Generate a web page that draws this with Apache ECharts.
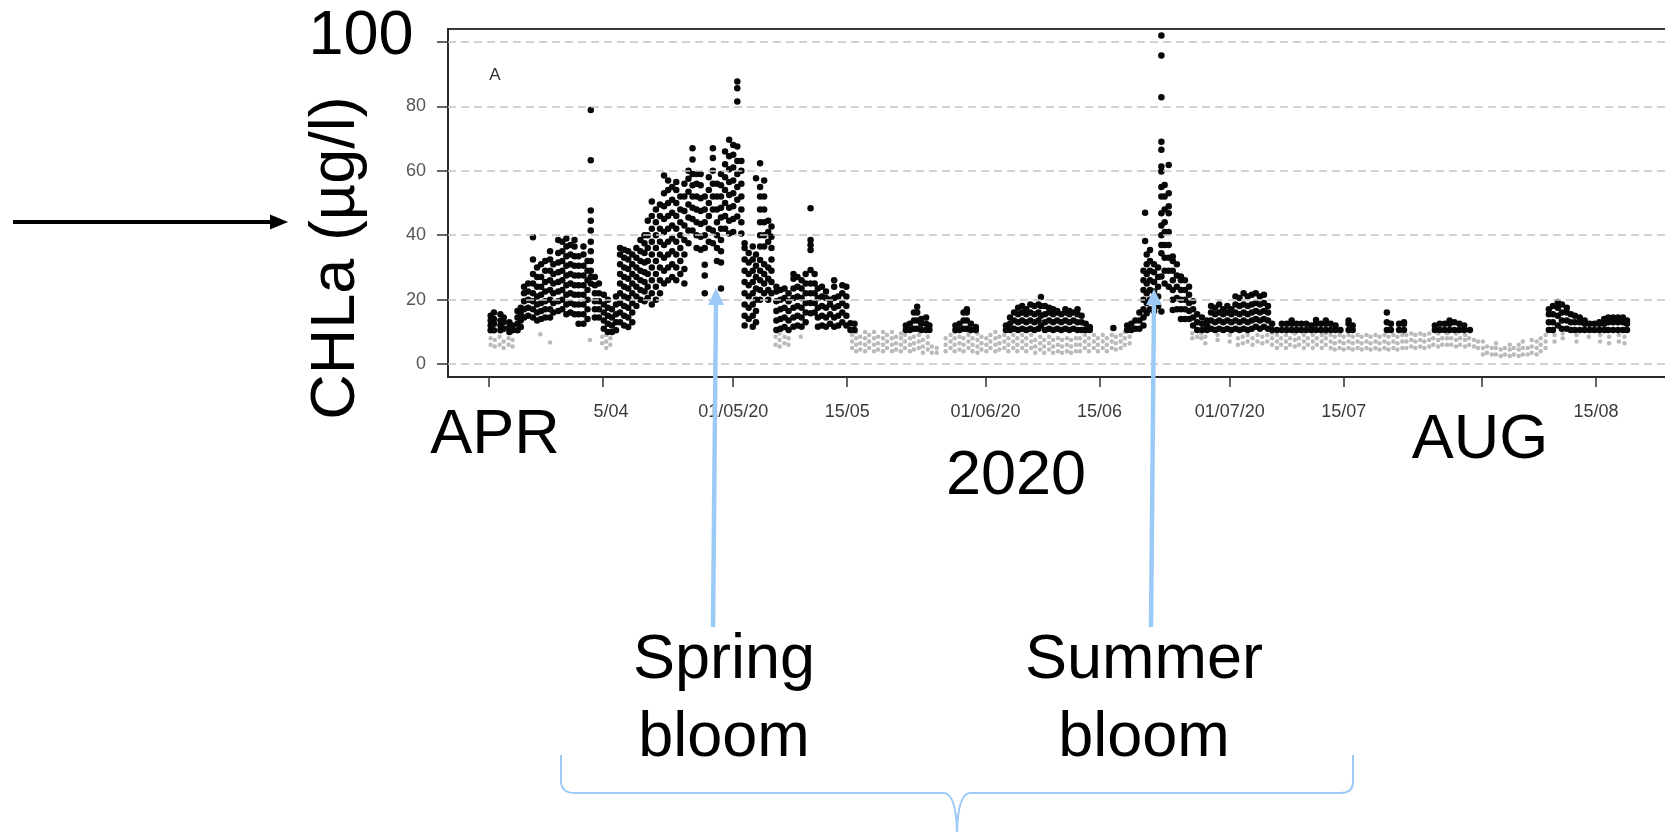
<!DOCTYPE html>
<html><head><meta charset="utf-8">
<script src="https://cdn.jsdelivr.net/npm/echarts@6.0.0/dist/echarts.min.js"></script>
<style>html,body{margin:0;padding:0;background:#fff}#c{width:1665px;height:832px}</style>
</head><body><div id="c"></div><script>
// x axis: days after 1 April 2020
const tickDays   = [0, 14, 30, 44, 61, 75, 91, 105, 122, 136];
const tickLabels = ['', '5/04', '01/05/20', '15/05', '01/06/20', '15/06', '01/07/20', '15/07', '', '15/08'];
const yTicks     = [0, 20, 40, 60, 80, 100];
const yLabels    = [0, 20, 40, 60, 80];

// black points: [day, CHLa values...]
const blackApril = [
 [0.2,10.5,12,13.5,15],[0.6,10.5,12.5,14,16],[1.4,10.5,12,13.5,15.5],[1.8,11,13,14.5],
 [2.5,10,11.5,13],[2.9,10.5,12],[3.5,10.5,12.5,14.5,16.5],[3.9,11.5,13.5,15.5,17.5],
 [4.3,14.5,17,19.5,22,24],[4.8,15,17.5,20,22.5,25],[5.4,14.5,17,19.5,22,25,28,32.5,39.4],
 [5.9,13.5,16,18.5,21,24,27,30],[6.4,14,16.5,19,21.5,24,27,31],[6.9,14.5,17,19.5,22.5,25.5,29,32],
 [7.5,14.5,17,20,23,26,29,32.5,35],[7.9,16,19,22,25,28,31],[8.5,16.5,19.5,22.5,25.5,28.5,31.5,34.5,38.5],
 [9.0,17,20,23,26,29,32,35,38],[9.5,15.5,18.5,21.5,24.5,27.5,30.5,33.5,36.5,39],[10.0,16,19,22,25,28,31,34,37],
 [10.5,15.5,18.5,21.5,24.5,27.5,30.5,33.5,36.5,38.5],[11.0,12.5,15.5,18.5,21.5,24.5,27.5,30.5,33.5],
 [11.6,12.5,15.5,18.5,21.5,24.5,27.5,30.5,34,36.5],[12.1,14,17,20,23,26,29,32],
 [12.5,25,27,29,32,35,38,41.5,44.5,47.7,63.3,78.9],[13.0,14.5,17,19.5,22,24.5,27],[13.5,14.5,17,19.5,22,25],
 [14.1,11,13.5,16,18.5,21.5],[14.6,10,12.5,15,17.5,20],[15.1,10,12,14.5,17],[15.6,10.5,13,15.5,18.5,21],
 [16.1,13,16,19,22,25,28,31,34,36],[16.6,12,15,18,21,24,27,30,33,35.5],[17.1,11.5,14.5,17.5,20.5,23.5,26.5,29.5,32.5,35],
 [17.6,13,16,19,22,25,28,31,34],[18.1,18,21,24,27,30,33,36],[18.6,20,23,26,29,32,35,38.5],
 [19.1,19.5,22.5,25.5,28.5,31.5,34.5,37.5,40],[19.5,20.5,24,28,32,36,40,44.5],[20.0,18.5,22,26,30,34,38,42,46,50.5],
 [20.5,20,24,28,32,36,40,44,48],[21.0,22,26,30,34,38,42,46,49.5],[21.5,25,29,33,37,41,45,49,53,58.5],
 [22.0,26,30,34,38,42,46,50,54,57],[22.5,27,31,35,39,43,47,51,55],[23.0,26,30,34,38,42,46,50,54,56.5],
 [23.5,28,32,36,40,44,48,52],[24.0,25,29.5,34,38.5,43,47.5,52,56],[24.5,37.5,41.5,45.5,49.5,53.5,57.5,60],
 [25.0,41.5,45,48.5,52,55.5,59,63.5,67],[25.5,36,40,44,48,52,56,59],[26.0,35.5,39.5,43.5,47.5,51.5,55.5,59],
 [26.5,22,27.5,30.8,36,40,44,48,52],[27.0,38,42,46,50,54,58],[27.5,37.5,41.5,48,52,56,60,64,67],
 [28.0,32,36,40,44,48,52,56],[28.5,23.5,31.5,35,38.5,42,45.5,48.5,52,55.5,59],[29.0,42,46,50,54,58,62,66],
 [29.5,40.5,44.5,48.5,52.5,56.5,60.5,64.5,69.6]
];
const blackMay = [
 [30.0,41,45,49,53,57,61,65,68],[30.5,45.8,51,55,59,63,67.5,81.5,85.6,87.7],[31.0,40.5,44,48,52,56,60,63],
 [31.4,12,15,18.5,22,25.5,29,32.5,36,37.5],[31.9,14,17.5,21,24.5,28,31.5,34.5],[32.4,11.6,15,18.5,22,25.5,29,32.5,36.5],
 [32.8,13,16.5,20,23.5,27,30.5,34,57.7],[33.3,20,23,26,29,32.3,36.5,40,44,48,52,55,62.3],
 [33.8,22,25,28,31,36.5,40,44,48,52,57],[34.3,20,23,26.5,30,38,41,44.5],[34.7,22,25.5,29,32.5,36,39.5,42.7],
 [35.3,10.6,13.5,16.5,19.5,22.5,24],[35.8,11,14,17,20,23],[36.3,11.5,14.5,17.5,20.5,23.5],[36.8,10.6,13.5,16.5,19.5,22],
 [37.4,11.6,14.5,17.5,20.5,23.5,26.5,28],[37.9,12,15,18,21,24,27],[38.4,11.6,14.5,17.5,20.5,23.5,26],
 [38.9,13,16,19,22,25,28],[39.5,15.8,19,22,25,29.2,35.4,37,38.5,48.4],[40.0,16,19,22,25,28],
 [40.4,11.6,14.5,17.5,20.5,23.5],[40.9,12,15,18,21,24],[41.4,11.6,14.5,17.5,20.5,22.5],[41.9,12.5,15.5,18.5,20],
 [42.4,11.6,14.5,17.5,20.5,24,26],[42.9,12,15,18,21],[43.4,13,16,19,22,24.5],[43.9,12,15,18,21,24],
 [44.4,10.6,12.7],[44.9,10.6,12.5]
];
const blackJune = [
 [51.2,10.6,12],[51.7,10.6,12.5],[52.2,11,13.5,16],[52.6,11,13.5,16,17.8],[53.1,10.6,12.5,14],[53.7,10.6,12.5,14.5],[54.1,10.6,12],
 [57.3,10.6,12],[57.8,10.6,12.5],[58.3,11,13.5,16],[58.7,11,13.5,16,17],[59.2,10.6,12.5],[59.8,10.6,11.5],
 [63.5,10.6,12],[64.0,10.6,12.5,14.5],[64.5,11,13.5,16],[65.0,10.6,13,15.5,17.5],[65.5,11,13.5,16,18],
 [66.0,10.6,13,15.5,17],[66.5,11,13.5,16,18.5],[67.0,10.6,13,15.5,18],[67.5,11,13.5,16,18.5],[67.8,12,15,18,20.8],
 [68.3,10.6,13,15.5,18],[68.8,11,13.5,16,17.5],[69.3,10.6,13,15.5,17],[69.8,11,13.5,16,16.5],[70.3,10.6,13,15.5],
 [70.8,11,13.5,16,17],[71.3,10.6,13,15.5,16.5],[71.8,11,13.5,16],[72.3,10.6,13,15.5,17],[72.8,10.6,13,15],
 [73.3,10.6,12.5],[73.8,10.6,11.5],[76.7,11.2],
 [78.4,10.6,12],[78.9,10.6,12.5],[79.4,11,13.5],[79.9,11,13.5,16]
];
const blackSummer = [
 [80.4,12,14.5,17,20,23,26,29],[80.6,38.2,47],[80.8,15.8,19,22,25,28,31,34],[81.2,17,20,23,26,29,32,35.4],
 [81.7,16.5,19.5,22.5,25.5,28.5,31],[82.2,18,21,24,27,30],
 [82.6,16.3,27.2,34.4,37,40,43,46.8,52,55,59.8,61.3,66.5,69,82.8,95.8,102],
 [83.0,25,29,33,37,41,44,48,52,55.6],[83.5,24,29,33,37,41,46.8,49,53,61.8],
 [84.0,16.8,20,23,26,29,32,33.4],[84.5,17,20.5,24,27.5,31],[85.0,14,17,20,23,26,27.2],[85.5,14,17,20,23,26],
 [86.0,14,16.5,19,21.5,24],[86.5,12,14.5,17,19.5],[87.0,10.6,13,15.5],[87.6,10.6,12.5,14.5],[88.2,10.6,12,13.5],
 [88.7,11,13.5,16,18],[89.2,10.6,13,15.5,17.5],[89.7,11,13.5,16,18.5],[90.2,10.6,13,15.5,17],[90.7,11,13.5,16,18],
 [91.2,10.6,13,15.5,17],[91.7,11,13.5,16,18.5,21],[92.2,10.6,13,15.5,18,20.5],[92.7,11,13.5,16,18.5,22],
 [93.2,10.6,13,15.5,18,21],[93.7,11,13.5,16,18.5,21.5],[94.2,11.6,14,16.5,19,22],[94.7,11,13.5,16,18.5,21],
 [95.2,11.6,14,16.5,19,21.5],[95.7,11,13.5,16,18],[96.2,10.6,12.5]
];
const blackLate = [
 [96.8,10.6],[97.4,10.6,12.5],[98.0,10.6,12.5],[98.6,10.6,12.5,13.5],[99.2,10.6,12.5],[99.8,10.6,12.5],
 [100.4,10.6,12.5],[101.0,10.6,12],[101.6,10.6,12.5,13.7],[102.2,10.6,12.5],[102.8,10.6,12.5,13.5],
 [103.4,10.6,12.5],[104.0,10.6,12],[104.6,10.6],[105.6,10.6,12.5,13.5],[106.1,10.6,12],
 [110.3,10.6,13,16],[110.8,10.6,12.5],[111.8,10.6,12.5],[112.4,10.6,12.5,13],
 [116.2,10.6,12],[116.8,10.6,12.5],[117.4,10.6,12.5],[118.0,10.6,12.5,13.5],[118.6,10.6,13],[119.2,10.6,12.5],
 [119.8,10.6,12],[120.5,10.6],
 [130.2,10.6,13,15.5,17],[130.7,10.6,13,15.5,18],[131.3,12,15,17.5,19.3],[131.8,11,13.5,16,18.5],
 [132.4,11,13.5,16,17.5],[132.9,10.6,13,15.5],[133.4,10.6,13,15],[134.0,10.6,13,14.5],[134.6,10.6,12.5,13.5],
 [135.2,10.6,12.5],[135.8,10.6,12.5],[136.4,10.6,12.5,13],[137.0,10.6,12.5,14],[137.5,10.6,13,14.5],
 [138.1,10.6,13,14.5],[138.7,10.6,13,14.5],[139.3,10.6,13,14.5],[139.8,10.6,12.5,13.5]
];
// grey points: [day, values...]
const greySpring = [
 [0.2,6,8],[0.7,5.5,7.5],[1.3,6,8.5],[1.8,5,7],[2.4,6,8],[2.9,5.5,7.5],
 [6.3,9.3],[7.5,6.7],[12.4,7.5],[13.9,6.5,8.5],[14.4,5,7,9],[14.9,6,8],
 [35.2,6,8.5],[35.7,5.5,7.5,9.5],[36.3,6.5,8.5],[36.8,6,8],[38.3,8.5]
];
const greySummer = [
 [44.6,5,7,9],[45.1,4,6,8,10],[45.6,4.5,6.5,8.5],[46.2,4,6,8,10],[46.7,5,7,9],[47.3,4,6,8,10],[47.8,4.5,6.5,8.5],
 [48.4,4,6,8,10],[48.9,5,7,9],[49.5,4,6,8,10],[50.0,4.5,6.5,8.5],[50.6,4,6,8,9.5],[51.1,5,7,9],[51.7,4,6,8],
 [52.2,4.5,6.5,8.5],[52.8,5,7,9],[53.3,3.5,5.5,7.5],[53.9,4.5,6.5,8.5],[54.4,3.5,5.5],[55.0,3.5,5],
 [56.1,4,6,8],[56.7,5,7,9],[57.2,4,6,8,10],[57.8,4.5,6.5,8.5],[58.3,4,6,8],[58.9,5,7,9,10],[59.4,4,6,8],
 [60.0,3.5,5.5,7.5,9.5],[60.5,4.5,6.5,8.5],[61.1,4,6,8],[61.6,5,7,9],[62.2,4,6,8,10],[62.7,4.5,6.5,8.5],
 [63.3,5,7,9],[63.8,4,6,8],[64.4,5,7,9],[64.9,4,6,8],[65.5,5,7,9],[66.0,4,6,8],[66.6,5,7,9],[67.1,3.5,5.5,7.5],
 [67.7,4.5,6.5,8.5],[68.2,3.5,5.5,7.5],[68.8,4.5,6.5,8.5],[69.3,3.5,5.5,7.5],[69.9,4,6,8],[70.4,3.5,5.5,7.5],
 [71.0,4,6,8],[71.5,3.5,5.5,7.5],[72.1,4,6,8],[72.6,4,6,8],[73.2,5,7,9],[73.7,4,6,8],[74.3,5,7,9],[74.8,4,6,8],
 [75.4,5,7,9],[75.9,4,6,8],[76.5,5,7,9],[77.0,4.5,6.5,8.5],[77.6,5,7,9],[78.1,6,8,10],[78.7,6.5,8.5],
 [86.4,8,9.6],[87.0,8.5],[87.5,8,9.5],[88.0,6.5,8.5],
 [89.5,7.5,9],[91.0,7,9],[92.0,6,8],[92.6,6.5,8.5],[93.2,7,9],[93.8,6,8],[94.4,7,9],[95.0,6.5,8.5],[95.6,7,9],
 [96.2,6,8,9.6],[96.8,5,7,9],[97.3,6,8],[97.9,5,7,9],[98.4,6,8],[99.0,5.5,7.5,9.5],[99.5,6,8],[100.1,5,7,9],
 [100.6,6,8],[101.2,5,7,9],[101.7,6,8],[102.3,5,7,9],[102.8,6,8,9.6],[103.4,5,7,9],[103.9,4.5,6.5,8.5],
 [104.5,5,7,9],[105.0,4.5,6.5,8.5],[105.6,5,7,9],[106.1,4.5,6.5,8.5],[106.7,5,7,9],[107.2,4.5,6.5,8.5],
 [107.8,5,7,9],[108.3,4.5,6.5,8.5],[108.9,5,7,9],[109.4,4.5,6.5,8.5],[110.0,5,7,9],[110.5,4.5,6.5,8.5],
 [111.1,5,7,9],[111.6,4.5,6.5,8.5],[112.2,5,7,9],[112.7,5,7,9],[113.3,5.5,7.5,9.5],[113.8,5,7,9],
 [114.4,5.5,7.5,9.5],[114.9,5,7,9],[115.5,5.5,7.5,9.5],[116.0,6,8],[116.6,5.5,7.5,9.5],[117.1,6,8],
 [117.7,6,8,9.6],[118.2,6,8],[118.8,5.5,7.5,9.5],[119.3,6,8],[119.9,5.5,7.5,9],[120.4,6,8],[121.0,5.5,7.5],[121.5,5,7],
 [122.1,3,5,7],[122.6,3.5,5.5],[123.2,3,5],[123.7,3,5,6.5],[124.3,2.5,4.5],[124.8,3,5],[125.4,2.5,4.5,6],
 [125.9,3,5],[126.5,2.5,4.5,6],[127.0,3,5,7],[127.6,3,5],[128.1,3.5,5.5,7.5],[128.7,3,5,7],[129.2,4,6,8],[129.8,5,7,9],
 [130.9,7,9],[131.9,8,9.5],[133.6,7,9],[135.1,8.5],[136.5,7,9],[137.6,6.5,8.5],[138.8,7,9],[139.5,6.5,8.5]
];

function flatten(cols){ const out=[]; cols.forEach(c=>{ for(let i=1;i<c.length;i++) out.push([c[0],c[i]]); }); return out; }
const blackPts = flatten([].concat(blackApril, blackMay, blackJune, blackSummer, blackLate));
const greyPts  = flatten([].concat(greySpring, greySummer));

const BIG = '63px "Liberation Sans", Arial, Helvetica, sans-serif';
const BLUE = '#9ccaf7';
function txt(t, x, y, extra){ return Object.assign({type:'text', x:x, y:y, z:200,
  style:{text:t, font:BIG, fill:'#000', align:'center', verticalAlign:'middle', textAlign:'center', textVerticalAlign:'middle'}}, extra||{}); }
function ln(x1,y1,x2,y2,c,w){ return {type:'line', z:200, shape:{x1:x1,y1:y1,x2:x2,y2:y2}, style:{stroke:c, lineWidth:w}}; }
function bz(x1,y1,cx,cy,x2,y2){ return {type:'bezierCurve', z:200, shape:{x1:x1,y1:y1,cpx1:cx,cpy1:cy,x2:x2,y2:y2},
  style:{stroke:BLUE, lineWidth:2, fill:null}}; }

const chart = echarts.init(document.getElementById('c'), null, {renderer:'canvas'});
chart.setOption({
  animation:false,
  backgroundColor:'#fff',
  grid:{left:448, top:29, right:-35, height:348, show:true, borderColor:'#3a3a3a', borderWidth:2,
        backgroundColor:'transparent', containLabel:false, outerBoundsMode:'none'},
  xAxis:{type:'value', min:-5.04, max:148.77, splitLine:{show:false},
    axisLine:{show:true, onZero:false, lineStyle:{color:'#2a2a2a', width:2}},
    axisTick:{show:true, customValues:tickDays, length:10, lineStyle:{color:'#333', width:1.5}},
    axisLabel:{customValues:tickDays.filter((d,i)=>tickLabels[i]!==''), margin:26, color:'#3a3a3a', fontSize:18,
      fontFamily:'"Liberation Sans", Arial, sans-serif',
      formatter:v=>{ const i = tickDays.indexOf(Math.round(v)); const t = tickLabels[i] || '';
        return i === 1 ? '{s|' + t + '}' : t; },
      rich:{s:{padding:[0,0,0,16], fontSize:18, color:'#3a3a3a', fontFamily:'"Liberation Sans", Arial, sans-serif'}}}},
  yAxis:{type:'value', min:-4, max:104, splitLine:{show:false},
    axisLine:{show:true, onZero:false, lineStyle:{color:'#2a2a2a', width:2}},
    axisTick:{show:true, customValues:yTicks, length:11, lineStyle:{color:'#333', width:1.5}},
    axisLabel:{customValues:yLabels, margin:22, color:'#555', fontSize:18,
      fontFamily:'"Liberation Sans", Arial, sans-serif'}},
  series:[
    {type:'scatter', data:[], z:1, silent:true,
     markLine:{silent:true, symbol:'none', animation:false, label:{show:false},
       lineStyle:{color:'#c4c4c4', type:[8,5], width:1.6}, data:yTicks.map(v=>({yAxis:v}))}},
    {type:'scatter', data:greyPts, z:2, symbol:'circle', symbolSize:4.5, silent:true,
     itemStyle:{color:'#bababa', opacity:1}},
    {type:'scatter', data:blackPts, z:3, symbol:'circle', symbolSize:6.5, silent:true,
     itemStyle:{color:'#080808', opacity:1}}
  ],
  graphic:[
    ln(13,222,272,222,'#000',4),
    {type:'polygon', z:200, shape:{points:[[288,222],[270,214.5],[270,229.5]]}, style:{fill:'#000'}},
    ln(713,627,716,302,BLUE,4.5),
    {type:'polygon', z:200, shape:{points:[[716,288],[708,305],[724,305]]}, style:{fill:BLUE}},
    ln(1151,627,1154,302,BLUE,4.5),
    {type:'polygon', z:200, shape:{points:[[1154,289],[1146,305],[1162,305]]}, style:{fill:BLUE}},
    ln(561,755,561,782,BLUE,2),
    bz(561,782,562,793,575,793),
    ln(575,793,944,793,BLUE,2),
    bz(944,793,956,794,957,832),
    bz(957,832,958,794,970,793),
    ln(970,793,1340,793,BLUE,2),
    bz(1340,793,1353,793,1353,782),
    ln(1353,782,1353,755,BLUE,2),
    txt('100', 361, 37),
    txt('CHLa (µg/l)', 337, 258, {rotation:Math.PI/2}),
    txt('APR', 495, 436),
    txt('AUG', 1480, 441),
    txt('2020', 1016, 477),
    txt('Spring', 724, 661),
    txt('bloom', 724, 739),
    txt('Summer', 1144, 661),
    txt('bloom', 1144, 739),
    {type:'text', x:495, y:75, z:200, style:{text:'A', font:'17px "Liberation Sans", Arial, sans-serif', fill:'#333',
      align:'center', verticalAlign:'middle', textAlign:'center', textVerticalAlign:'middle'}}
  ]
});
</script></body></html>
